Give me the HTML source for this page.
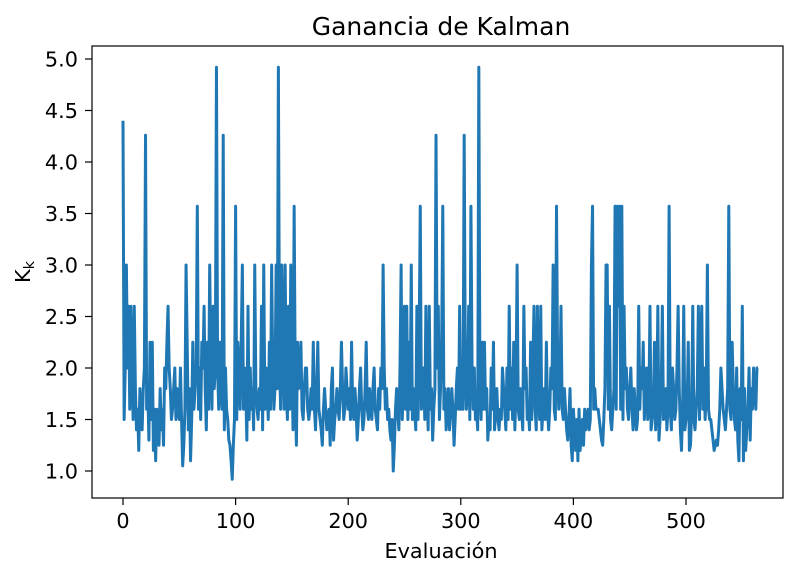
<!DOCTYPE html>
<html><head><meta charset="utf-8"><style>
body{margin:0;background:#fff;font-family:"Liberation Sans","DejaVu Sans",sans-serif;}
svg text{font-family:"DejaVu Sans","Liberation Sans",sans-serif;fill:#000;}
</style></head><body>
<svg id="chart" width="805" height="578" viewBox="0 0 805 578" xmlns="http://www.w3.org/2000/svg">
<rect width="805" height="578" fill="#fff"/>
<text x="441" y="35" font-size="25" text-anchor="middle">Ganancia de Kalman</text>
<text x="441" y="558" font-size="20.8" text-anchor="middle">Evaluación</text>
<text transform="translate(30,272) rotate(-90)" font-size="20.8" text-anchor="middle">K<tspan font-size="14.5" dy="4">k</tspan></text>
<g id="series"></g>
<g id="axes"></g>
<rect x="92" y="46" width="691" height="452" fill="none" stroke="#000" stroke-width="1.2"/>
</svg>
<script>
const xTicks=[0,100,200,300,400,500];
const yTicks=[1.0,1.5,2.0,2.5,3.0,3.5,4.0,4.5,5.0];
const gainValues=[
4.4,1.5,2.0,3.0,2.0,2.6,1.6,2.6,2.0,1.5,2.6,1.8,1.4,1.6,1.2,1.8,1.6,1.4,1.8,2.0,
4.26,1.6,1.8,1.3,2.25,1.5,2.25,1.2,1.6,1.1,1.6,1.4,1.25,1.8,1.4,1.6,1.25,2.0,1.8,2.25,
2.6,2.0,1.8,1.5,1.6,1.8,2.0,1.5,1.8,1.6,1.5,2.0,1.5,1.05,1.25,1.6,3.0,2.25,1.4,1.8,
1.1,1.5,2.25,1.6,1.8,2.0,3.57,1.6,2.0,1.5,2.25,2.0,2.6,1.8,1.4,2.25,1.6,3.0,2.0,1.6,
2.6,1.8,2.0,4.92,2.0,1.6,2.25,1.8,1.6,4.26,1.4,2.0,1.6,1.5,1.3,1.25,1.1,0.92,1.25,1.5,
3.57,1.5,2.25,2.0,1.6,2.25,3.0,1.6,2.0,1.8,1.3,2.6,1.5,2.0,1.6,1.8,1.4,3.0,1.8,1.6,
1.5,1.8,1.6,2.6,1.4,3.0,1.6,2.0,1.8,1.5,2.25,1.6,3.0,2.0,1.6,1.8,3.0,1.8,4.92,2.0,
1.6,3.0,2.25,1.6,3.0,1.8,1.5,2.6,1.6,3.0,2.0,1.4,3.57,1.8,1.25,2.25,1.8,2.0,2.25,1.6,
1.5,1.8,2.0,2.0,1.6,1.5,1.6,1.8,1.6,2.25,1.6,1.4,1.8,2.25,1.6,1.5,1.4,1.25,1.6,1.8,
1.6,1.4,1.5,1.6,1.25,1.8,2.0,1.3,1.5,1.6,1.8,1.6,1.5,1.8,2.25,1.8,1.5,1.6,2.0,1.8,
1.6,1.8,1.5,2.25,1.6,1.5,1.8,1.6,1.3,1.5,1.8,2.0,1.6,1.4,1.5,1.8,2.25,1.6,1.5,1.8,
1.6,1.5,1.8,2.0,1.6,1.5,1.4,1.8,1.6,2.0,1.8,3.0,2.0,1.6,1.8,1.5,1.6,1.4,1.3,1.5,
1.0,1.25,1.6,1.8,1.6,1.4,2.0,3.0,1.5,1.8,2.6,1.6,2.6,1.5,2.25,1.6,3.0,1.5,1.8,1.6,
1.4,2.6,1.5,2.25,3.57,1.6,1.8,2.0,1.5,2.6,1.8,1.4,2.6,1.6,1.8,1.3,1.6,1.8,4.26,2.0,
2.6,1.5,1.8,2.25,3.57,1.6,1.8,1.4,1.6,1.8,1.4,1.6,1.8,1.6,1.25,1.5,1.8,2.0,1.6,2.6,
1.6,1.8,1.6,4.26,2.0,1.6,1.8,2.6,1.5,3.57,2.0,1.6,2.0,1.5,1.6,1.4,4.92,1.8,1.5,2.25,
1.6,2.25,1.6,1.8,1.3,1.5,1.4,2.0,1.6,2.25,1.4,1.6,1.8,1.5,1.4,1.6,1.5,2.0,1.8,1.6,
1.4,2.0,1.5,2.6,1.6,2.0,1.5,2.25,1.4,1.8,3.0,1.6,1.5,1.8,1.6,1.4,2.6,1.8,2.0,1.5,
1.6,1.4,2.25,1.5,2.0,2.6,1.6,1.4,2.6,1.8,1.5,2.6,1.4,1.6,1.8,1.5,2.25,1.6,1.4,1.6,
2.0,1.8,3.0,1.6,1.5,3.57,2.0,1.6,1.8,2.6,1.6,1.5,1.8,1.6,1.4,1.3,1.5,1.8,1.25,1.1,
1.6,1.4,1.2,1.5,1.1,1.6,1.2,1.4,1.5,1.25,1.6,1.4,1.5,1.6,1.4,1.5,3.0,3.57,1.6,1.8,
1.6,1.6,1.6,1.5,1.4,1.3,1.25,1.5,1.8,3.0,3.0,1.6,2.6,1.5,1.4,1.6,1.8,3.57,1.6,3.57,
2.6,3.57,1.6,3.57,1.5,2.6,1.8,2.0,1.6,1.5,1.8,2.0,1.6,1.4,1.8,1.6,1.4,1.5,2.6,1.6,
2.0,1.8,2.25,1.5,1.8,2.0,1.5,1.6,2.6,1.4,1.5,1.6,2.25,1.4,1.6,2.6,1.3,1.5,1.8,2.6,
1.5,1.6,1.8,1.4,1.6,3.57,1.6,1.4,2.0,1.8,1.5,1.6,2.0,2.6,1.8,1.4,1.2,1.6,2.6,1.4,
1.5,1.6,2.25,1.2,1.25,1.6,2.6,1.5,1.4,1.6,1.8,2.6,1.5,2.25,2.6,1.6,2.0,1.5,1.8,3.0,
1.6,1.5,1.5,1.4,1.3,1.2,1.25,1.3,1.25,1.4,1.6,2.0,1.8,1.6,1.5,1.4,1.6,1.8,3.57,1.6,
1.5,2.25,1.8,1.5,1.4,2.0,1.3,1.1,1.8,1.5,2.6,1.1,1.8,1.2,1.4,1.6,2.0,1.3,1.8,1.6,
2.0,1.8,1.6,2.0,2.0
];
const NS="http://www.w3.org/2000/svg";
function xs(v){return 123+v*(686-123)/500;}
function ys(v){return 471-(v-1.0)*(471-59)/4.0;}
const axes=document.getElementById('axes');
xTicks.forEach(t=>{
  const l=document.createElementNS(NS,'line');
  
  
  l.setAttribute('x1',xs(t));l.setAttribute('x2',xs(t));l.setAttribute('y1',498);l.setAttribute('y2',505);l.setAttribute('stroke','#000');l.setAttribute('stroke-width','1.2');
  axes.appendChild(l);
  const tx=document.createElementNS(NS,'text');
  
  
  tx.setAttribute('x',xs(t));tx.setAttribute('y',528);tx.setAttribute('font-size','20.8');tx.setAttribute('text-anchor','middle');
  tx.textContent=String(t);axes.appendChild(tx);
});
yTicks.forEach(t=>{
  const l=document.createElementNS(NS,'line');
  
  
  l.setAttribute('x1',85);l.setAttribute('x2',92);l.setAttribute('y1',ys(t));l.setAttribute('y2',ys(t));l.setAttribute('stroke','#000');l.setAttribute('stroke-width','1.2');
  axes.appendChild(l);
  const tx=document.createElementNS(NS,'text');
  
  
  tx.setAttribute('x',78);tx.setAttribute('y',ys(t)+7.5);tx.setAttribute('font-size','20.8');tx.setAttribute('text-anchor','end');
  tx.textContent=t.toFixed(1);axes.appendChild(tx);
});
const p=document.createElementNS(NS,'path');


p.setAttribute('d',gainValues.map((v,i)=>(i?'L':'M')+xs(i).toFixed(2)+','+ys(v).toFixed(2)).join(''));
p.setAttribute('fill','none');p.setAttribute('stroke','#1f77b4');p.setAttribute('stroke-width','3');p.setAttribute('stroke-linejoin','round');
document.getElementById('series').appendChild(p);
</script>
</body></html>
